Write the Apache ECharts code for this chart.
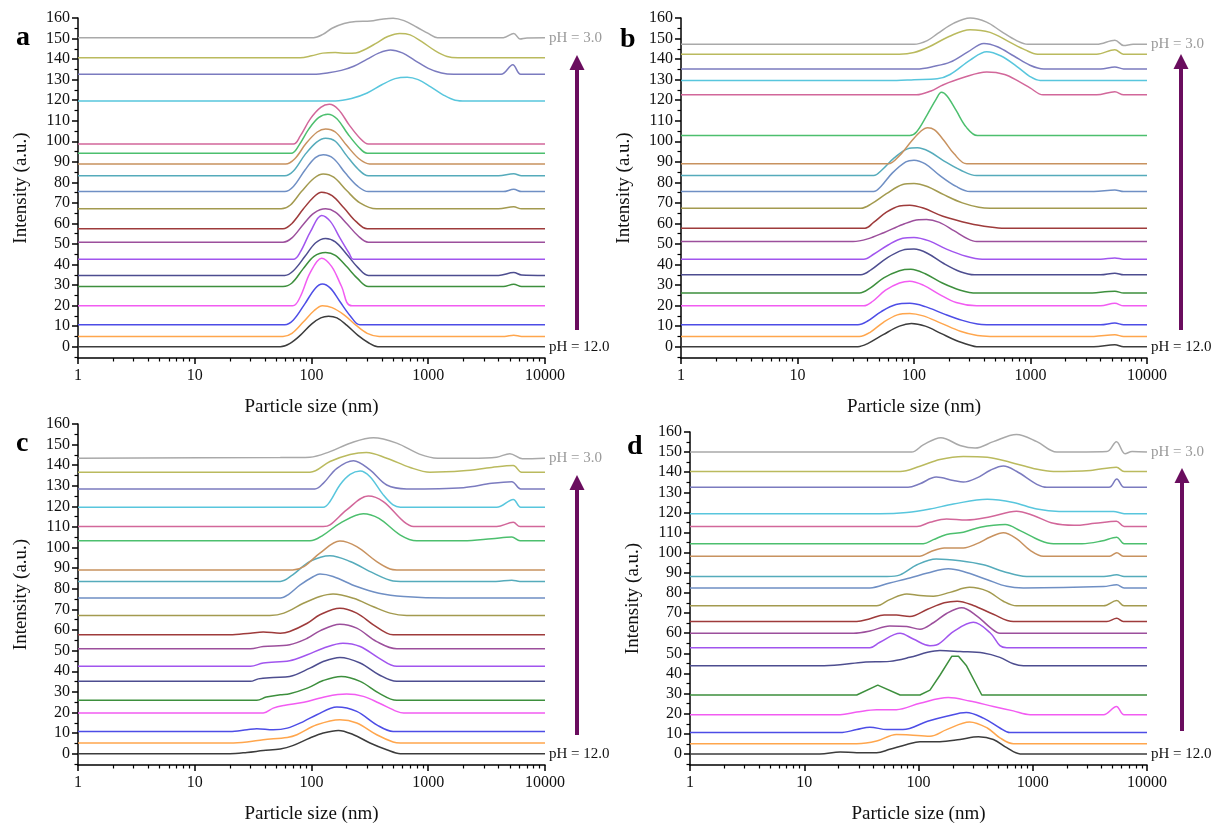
<!DOCTYPE html>
<html>
<head>
<meta charset="utf-8">
<script src="https://cdn.jsdelivr.net/npm/echarts@6.0.0/dist/echarts.min.js"></script>
<style>
html,body{margin:0;padding:0;background:#fff;}
#chart{width:1212px;height:825px;}
</style>
</head>
<body>
<div id="chart"></div>
<script>
// ---------- DATA ----------
const pH = [12.0, 11.5, 11.0, 10.5, 10.0, 9.5, 9.0, 8.5, 8.0, 7.5, 7.0, 6.5, 6.0, 5.5, 5.0, 4.5, 4.0, 3.5, 3.0];
const majorX = [1, 10, 100, 1000, 10000];
const minorX = [2,3,4,5,6,7,8,9,20,30,40,50,60,70,80,90,200,300,400,500,600,700,800,900,2000,3000,4000,5000,6000,7000,8000,9000];
const majorY = [0,10,20,30,40,50,60,70,80,90,100,110,120,130,140,150,160];
const minorY = [-5,5,15,25,35,45,55,65,75,85,95,105,115,125,135,145,155];
const panelLetters = ['a', 'b', 'c', 'd'];

// Panel a: [particle size (nm), intensity incl. offset]
const curvesA = [
  [[1,0],[54,0],[65,1.5],[80,5.5],[100,11],[120,14],[140,14.8],[165,14],[200,10.5],[250,5.5],[310,1.8],[370,0],[10000,0]],
  [[1,5],[57,5],[68,6.5],[85,12],[105,17.5],[124,19.9],[150,19],[190,15.5],[240,10.5],[300,6.5],[380,5],[4500,5],[5400,5.6],[6300,5],[10000,5]],
  [[1,10.7],[59,10.7],[70,13],[88,21],[108,28.5],[124,30.5],[145,28.5],[175,22],[215,15],[260,10.7],[10000,10.7]],
  [[1,19.9],[69,19.9],[80,24.2],[97,35.8],[122,43.1],[149,39],[181,29.3],[222,19.9],[10000,19.9]],
  [[1,29.3],[57,29.3],[68,31],[85,38],[105,44],[132,45.9],[160,44.5],[200,39],[250,33],[307,29.3],[4400,29.3],[5400,30.4],[6300,29.3],[10000,29.3]],
  [[1,34.7],[59,34.7],[70,37],[88,44],[108,50.5],[132,52.7],[160,51],[200,45],[250,38.5],[307,34.7],[4000,34.7],[5400,36.1],[6300,34.9],[10000,34.7]],
  [[1,42.6],[70,42.6],[80,46],[98,56],[122,63.9],[145,61],[175,53],[210,45.5],[228,42.6],[10000,42.6]],
  [[1,50.9],[57,50.9],[68,53],[85,59.5],[105,65],[132,67.1],[160,65.5],[200,60],[250,54],[307,50.9],[10000,50.9]],
  [[1,57.4],[57,57.4],[68,60],[85,67],[105,73],[122,75.2],[150,73.5],[190,67.5],[240,61],[300,57.4],[10000,57.4]],
  [[1,67.1],[55,67.1],[66,69],[82,75.5],[105,82],[126,84.1],[155,82.5],[200,76],[260,70],[360,67.1],[4000,67.1],[5400,68.1],[6300,67.1],[10000,67.1]],
  [[1,75.5],[59,75.5],[70,78],[88,86],[108,92],[126,93.4],[155,91.5],[195,84.5],[250,78],[307,75.5],[4400,75.5],[5400,76.6],[6300,75.5],[10000,75.5]],
  [[1,83.2],[59,83.2],[70,85.5],[88,93.5],[110,99.5],[132,101.5],[160,100],[200,93],[250,86.5],[307,83.2],[4000,83.2],[5400,84.2],[6300,83.2],[10000,83.2]],
  [[1,88.9],[60,88.9],[72,91.5],[90,99],[112,104.5],[132,106],[160,104.5],[200,98],[255,91.5],[315,88.9],[10000,88.9]],
  [[1,94.2],[67,94.2],[78,98],[95,106],[115,111.5],[138,113.2],[165,111],[205,103.5],[255,97],[300,94.2],[10000,94.2]],
  [[1,98.7],[70,98.7],[80,102.5],[98,111],[120,116.5],[142,118],[170,115.5],[210,108],[260,101.5],[307,98.7],[10000,98.7]],
  [[1,119.6],[160,119.6],[220,120.8],[300,123.5],[400,127.5],[520,130.5],[660,131.2],[820,130],[1050,126.5],[1350,122.5],[1700,120],[2100,119.6],[10000,119.6]],
  [[1,132.6],[104,132.6],[140,133.3],[180,134.5],[230,136.5],[300,140],[380,143],[475,144.4],[600,143],[760,139.5],[1000,135.5],[1300,133.2],[1650,132.6],[4200,132.6],[5300,137.3],[6200,132.6],[10000,132.6]],
  [[1,140.7],[80,140.7],[100,141.6],[125,142.9],[160,143.2],[200,142.8],[240,143],[290,144.8],[360,147.8],[450,151],[570,152.5],[700,151.8],[880,148.5],[1150,144],[1450,141.3],[1800,140.7],[10000,140.7]],
  [[1,150.4],[104,150.4],[125,152],[150,155],[190,157.3],[240,158.3],[320,158.5],[400,159.4],[500,159.9],[620,158.7],[800,155.5],[1000,152.5],[1200,150.4],[4400,150.4],[5400,152.5],[6100,149.8],[7000,150.3],[10000,150.4]]
];

const curvesB = [
  [[1,0],[33,0],[40,1.5],[55,6],[75,10],[95,11.3],[125,10],[170,6.5],[230,3],[300,0.8],[345,0],[3500,0],[5300,1],[6300,0],[10000,0]],
  [[1,5],[34,5],[42,7],[55,12],[72,15.5],[92,16.2],[120,15],[170,11.5],[250,7.5],[350,5.4],[450,5],[3500,5],[5300,5.8],[6300,5],[10000,5]],
  [[1,10.7],[33,10.7],[40,12.5],[52,17],[70,20.5],[92,21.1],[125,19.5],[180,16],[260,12.8],[350,11],[420,10.7],[4000,10.7],[5300,11.5],[6300,10.7],[10000,10.7]],
  [[1,19.9],[37,19.9],[44,22],[57,27.5],[75,31],[92,31.9],[120,30],[165,25.5],[230,21.5],[345,19.9],[4000,19.9],[5300,21.1],[6300,19.9],[10000,19.9]],
  [[1,26.1],[34,26.1],[42,28.5],[55,33.5],[75,37],[94,37.7],[125,35.5],[175,31],[250,27.5],[345,26.1],[3000,26.1],[5300,27],[6300,26.1],[10000,26.1]],
  [[1,35],[35,35],[43,37.5],[58,43],[80,47],[100,47.5],[130,45.5],[180,40.5],[250,36.5],[330,35],[4000,35],[5300,35.8],[6300,35],[10000,35]],
  [[1,42.6],[37,42.6],[45,45],[60,49.5],[80,52.8],[100,53.2],[135,51.5],[190,47.5],[280,44],[385,42.6],[4000,42.6],[5300,43.2],[6300,42.6],[10000,42.6]],
  [[1,51.2],[30,51.2],[40,52.5],[55,55.5],[80,59.5],[110,61.8],[128,61.9],[165,60.5],[220,56.5],[290,52.5],[345,51.2],[10000,51.2]],
  [[1,57.7],[38,57.7],[45,60.5],[58,65.5],[75,68.5],[92,68.9],[120,67.5],[177,63.5],[300,60],[450,58.3],[600,57.7],[10000,57.7]],
  [[1,67.4],[35,67.4],[43,69.5],[58,74.5],[80,79],[100,79.5],[130,78],[180,74],[260,70],[360,67.9],[450,67.4],[10000,67.4]],
  [[1,75.5],[45,75.5],[52,78],[65,84.5],[85,90],[100,90.8],[125,89],[165,83.5],[230,78],[303,75.5],[3500,75.5],[5300,76.3],[6300,75.5],[10000,75.5]],
  [[1,83.3],[45,83.3],[53,86],[68,92],[88,96.3],[107,96.8],[135,95],[180,90.5],[250,86],[345,83.3],[10000,83.3]],
  [[1,89],[60,89],[75,93],[95,100],[115,105],[131,106.6],[150,105.5],[180,100.5],[220,94],[284,89],[10000,89]],
  [[1,102.8],[92,102.8],[105,104.5],[130,113],[155,120.5],[172,123.8],[192,122],[230,115],[280,107],[350,102.8],[10000,102.8]],
  [[1,122.6],[105,122.6],[140,124.5],[177,127.4],[265,131],[421,133.7],[600,132.5],[800,129],[990,126],[1280,122.6],[3700,122.6],[5300,124.1],[6300,122.6],[10000,122.6]],
  [[1,129.6],[71,129.6],[100,130],[158,130.4],[204,132.5],[303,139.5],[421,143.6],[560,141.5],[760,136.5],[990,131.5],[1210,129.6],[10000,129.6]],
  [[1,135.2],[105,135.2],[150,136.5],[204,138.5],[290,143.5],[398,147.6],[520,146],[720,141.5],[990,137],[1300,135.2],[4000,135.2],[5300,136.2],[6300,135.2],[10000,135.2]],
  [[1,142.4],[75,142.4],[100,143.2],[135,146],[200,151],[303,154.3],[450,153],[650,148.5],[900,144.5],[1150,142.4],[3700,142.4],[5300,144.6],[6260,142.4],[10000,142.4]],
  [[1,147.2],[100,147.2],[130,149],[160,152.5],[220,157.5],[303,160],[420,158],[560,153.5],[760,149],[950,147.2],[3700,147.2],[5300,149.2],[6300,146.6],[7600,147.2],[10000,147.2]]
];

const curvesC = [
  [[1,0],[20,0],[28,0.6],[38.6,1.5],[54,2.3],[69,3.9],[97,7.6],[126,10],[170,11.3],[229,9.2],[317,5.2],[441,1.9],[577,0],[10000,0]],
  [[1,5.2],[20,5.2],[28,5.7],[38.6,6.8],[62,7.9],[75,9.2],[111,14],[175,16.5],[244,14.9],[362,9.2],[500,5.7],[577,5.2],[10000,5.2]],
  [[1,10.8],[20,10.8],[28,11.6],[34,12.1],[47,11.6],[62,12.4],[86,15.7],[111,18.9],[165,22.6],[244,20.5],[362,14],[500,10.8],[10000,10.8]],
  [[1,19.7],[38.6,19.7],[47,22.1],[58,23.4],[86,25],[135,27.8],[200,28.9],[278,27.8],[378,24.6],[537,20.5],[617,19.7],[10000,19.7]],
  [[1,25.9],[34,25.9],[41,27.5],[54,28.6],[65,29.1],[92,31.8],[126,35.5],[180,37.5],[261,35.1],[378,29.4],[537,25.9],[10000,25.9]],
  [[1,35.1],[30,35.1],[35,36.3],[47,37],[65,37.5],[97,41.5],[126,44.7],[175,46.7],[261,44],[378,38.3],[537,35.1],[10000,35.1]],
  [[1,42.4],[30,42.4],[38.6,44],[65,45.1],[92,48],[126,51.2],[186,53.6],[261,52],[378,46.4],[537,42.4],[10000,42.4]],
  [[1,50.9],[30,50.9],[38.6,52],[65,52.9],[92,56],[118,59.6],[175,62.8],[244,60.9],[362,54.4],[537,50.9],[10000,50.9]],
  [[1,57.7],[20,57.7],[30,58.5],[38.6,59],[54,58.5],[65,59.3],[92,63.3],[118,67.4],[175,70.6],[244,68.2],[339,62.5],[441,58.5],[500,57.7],[10000,57.7]],
  [[1,67.1],[44,67.1],[58,68.2],[86,73.1],[118,76.3],[153,77.5],[229,75.4],[339,71.3],[471,68.2],[654,67.1],[10000,67.1]],
  [[1,75.5],[54,75.5],[63,77.1],[80,81.9],[104,86],[118,87.2],[153,86],[244,81.1],[378,77.9],[617,76.3],[1438,75.5],[10000,75.5]],
  [[1,83.6],[54,83.6],[69,86.8],[97,93.3],[144,96.1],[214,93.3],[339,87.6],[500,83.8],[577,83.6],[3800,83.6],[5200,84.2],[6100,83.6],[10000,83.6]],
  [[1,89.2],[69,89.2],[86,90.8],[118,97.3],[175,103.2],[244,100.5],[362,93.2],[471,89.6],[537,89.2],[10000,89.2]],
  [[1,103.3],[97,103.3],[126,106.1],[175,111.8],[278,116.5],[378,114.2],[577,106.1],[797,103.3],[2000,103.3],[3500,104.3],[5200,105.2],[6110,103.3],[10000,103.3]],
  [[1,110.2],[126,110.2],[144,111],[200,118.3],[306,125],[412,122.3],[617,112.6],[750,110.2],[3855,110.2],[5350,112.3],[6110,110.2],[10000,110.2]],
  [[1,119.6],[126,119.6],[144,122.4],[175,130.4],[214,135.5],[261,137.2],[317,134.4],[412,125.6],[500,120.7],[577,119.6],[3855,119.6],[5350,123.4],[6200,119.6],[10000,119.6]],
  [[1,128.5],[107,128.5],[126,131.2],[165,138.5],[229,142.2],[317,137.7],[441,130.4],[654,128.5],[2000,129.1],[3500,131.2],[5190,132],[6200,128.5],[10000,128.5]],
  [[1,136.6],[97,136.6],[144,141.8],[214,145.2],[295,146.2],[441,143.4],[700,138.9],[1035,136.6],[2000,137.3],[3500,138.9],[5350,139.8],[6300,136.6],[10000,136.6]],
  [[1,143.4],[54,143.7],[97,143.9],[144,146.6],[214,150.7],[339,153.3],[537,150.7],[840,145.4],[1200,143.4],[2300,143.4],[3855,143.9],[5000,145.6],[6400,143.1],[10000,143.4]]
];

const curvesD = [
  [[1,0],[13.7,0],[20.6,1],[28.8,0.6],[43,0.6],[56,2.3],[79,4.7],[103,6.1],[154,6.1],[231,7.2],[335,8.5],[452,7.2],[592,3.1],[775,0],[10000,0]],
  [[1,5.1],[28.8,5.1],[43,6.4],[64,9.7],[84,9.4],[126,8.8],[176,12.1],[280,15.9],[400,12.9],[516,8],[676,5.1],[10000,5.1]],
  [[1,10.6],[20.6,10.6],[28.8,12.1],[37.6,13.3],[53,12.1],[73,12.1],[120,16.2],[176,18.7],[262,20.6],[370,17.8],[516,12.9],[630,10.6],[10000,10.6]],
  [[1,19.5],[20.6,19.5],[28.8,20.8],[43,22],[64,22],[103,25.2],[182,28],[280,26.3],[452,23.6],[676,21.4],[950,19.5],[4160,19.5],[5400,23.6],[6300,19.5],[10000,19.5]],
  [[1,29.3],[28.8,29.3],[44,34.2],[69,29.3],[103,29.3],[126,31.7],[154,39.1],[196,48.6],[224,48.6],[262,44],[358,29.3],[10000,29.3]],
  [[1,43.8],[13.7,43.8],[20.6,44.3],[33,45.6],[56,46],[84,48],[120,50.5],[154,51.4],[231,50.9],[370,50.2],[516,48],[676,44.8],[828,43.8],[10000,43.8]],
  [[1,52.8],[37.6,52.8],[45.5,55.4],[69,60],[90,57.1],[126,53.8],[143,54.1],[202,60.8],[302,65.4],[425,60.1],[516,53.8],[592,52.8],[10000,52.8]],
  [[1,60],[27,60],[37.6,61.1],[56,63.6],[79,63.3],[103,62],[135,65.2],[176,69.8],[239,72.6],[325,68.5],[425,62.8],[516,60],[10000,60]],
  [[1,65.8],[28.8,65.8],[37.6,67.2],[50,69.1],[64,69],[84,68.3],[120,71.9],[168,75.1],[218,75.9],[302,73.8],[452,69.4],[676,65.8],[4450,65.8],[5440,67.4],[6200,65.8],[10000,65.8]],
  [[1,73.6],[43,73.6],[56,76.7],[79,79.5],[103,78.7],[135,78.4],[189,80.3],[280,82.8],[400,80.9],[553,75.9],[720,73.6],[4160,73.6],[5440,76.2],[6300,73.6],[10000,73.6]],
  [[1,82.5],[37.6,82.5],[56,85],[84,87.4],[120,89.9],[182,92],[247,90.7],[400,86.6],[592,83.3],[828,82.5],[4160,83.2],[5440,84.1],[6300,82.5],[10000,82.5]],
  [[1,88.2],[53,88.2],[69,89],[97,94],[143,96.9],[231,96],[370,94],[553,90.7],[882,88.2],[4200,88.2],[5440,89],[6300,88.2],[10000,88.2]],
  [[1,98.3],[103,98.3],[126,100.4],[168,102.4],[247,102.4],[325,104.5],[425,107.8],[553,109.9],[720,107],[950,101.2],[1239,98.3],[4700,98.3],[5440,100],[6200,98.3],[10000,98.3]],
  [[1,104.5],[110,104.5],[135,106.5],[176,109.1],[247,110.2],[347,112.7],[575,114],[775,111],[1160,106.1],[1516,104.5],[2700,104.5],[4000,105.8],[5440,107.7],[6300,104.5],[10000,104.5]],
  [[1,113],[97,113],[126,115.1],[176,116.8],[262,116.3],[425,117.9],[720,120.6],[1012,118.5],[1516,114.6],[2300,113.6],[3500,114.6],[5400,115.7],[6300,113],[10000,113]],
  [[1,119.4],[46,119.4],[79,120],[126,121.7],[202,124.2],[400,126.6],[676,125],[1086,121.7],[1700,120.5],[5100,120.5],[6300,119.4],[10000,119.4]],
  [[1,132.5],[81,132.5],[103,134.3],[143,137.6],[202,135.9],[247,135.1],[325,137.2],[425,141],[553,143.1],[720,140.5],[1086,134],[1330,132.5],[4650,132.5],[5440,136.7],[6300,132.5],[10000,132.5]],
  [[1,140.4],[69,140.4],[103,143],[154,146.3],[247,147.8],[400,147.4],[633,145],[1012,141.9],[1516,140.4],[3200,140.9],[5400,142.5],[6300,140.4],[10000,140.4]],
  [[1,150],[87,150],[110,153.6],[157,157.2],[231,153.3],[313,152],[452,155.2],[720,158.8],[1086,155.2],[1620,150],[4450,150.3],[5400,155.2],[6430,149.2],[7400,150.3],[10000,150]]
];

// ---------- STYLE ----------
const palette = ['#3c3c3c','#ffa64d','#4d4de6','#f25cf2','#3d8f3d','#4d4d8f','#a155ee','#9c4f9c','#9e3b3b','#a39a4f','#6f8fc4','#55abbb','#c8925f','#4cbf6e','#d2679a','#58c6dd','#7b7bbf','#baba5e','#a9a9a9'];
const FONT = '"Liberation Serif", "Times New Roman", serif';
const TXT = '#111111';
const ARROW = '#6a0d5e';
const panels = [curvesA, curvesB, curvesC, curvesD];
const grids = [
  {left: 78, top: 18, width: 467, height: 340},
  {left: 681, top: 18, width: 466, height: 340},
  {left: 78, top: 424, width: 467, height: 341},
  {left: 690, top: 432, width: 457, height: 337}
];
const arrows = [
  {x: 577, top: 55, bottom: 330},
  {x: 1181, top: 54, bottom: 330},
  {x: 577, top: 475, bottom: 735},
  {x: 1182, top: 468, bottom: 731}
];
const letterPos = [[16, 38], [620, 39.5], [16, 443.5], [627, 446.5]];

const xAxes = [], yAxes = [], series = [], graphic = [];
for (let p = 0; p < 4; p++) {
  xAxes.push({
    type: 'log', logBase: 10, gridIndex: p, min: 1, max: 10000, position: 'bottom',
    axisLine: {onZero: false, lineStyle: {color: '#000', width: 1.5}},
    axisTick: {customValues: majorX, length: 6, lineStyle: {color: '#000', width: 1.5}},
    axisLabel: {customValues: majorX, formatter: v => String(v), fontFamily: FONT, fontSize: 16, color: TXT, margin: 10},
    splitLine: {show: false},
    name: 'Particle size (nm)', nameLocation: 'middle', nameGap: 40,
    nameTextStyle: {fontFamily: FONT, fontSize: 19, color: TXT}
  });
  yAxes.push({
    type: 'value', gridIndex: p, min: -5.5, max: 160, position: 'left',
    axisLine: {show: true, onZero: false, lineStyle: {color: '#000', width: 1.5}},
    axisTick: {customValues: majorY, length: 6, lineStyle: {color: '#000', width: 1.5}},
    axisLabel: {customValues: majorY, fontFamily: FONT, fontSize: 16, color: TXT, margin: 8},
    splitLine: {show: false},
    name: 'Intensity (a.u.)', nameLocation: 'middle', nameGap: 47, nameRotate: 90,
    nameTextStyle: {fontFamily: FONT, fontSize: 19, color: TXT}
  });
}
for (let p = 0; p < 4; p++) {
  xAxes.push({
    type: 'log', logBase: 10, gridIndex: p, min: 1, max: 10000, position: 'bottom',
    axisLine: {show: false, onZero: false},
    axisTick: {customValues: minorX, length: 3.5, lineStyle: {color: '#000', width: 1.2}},
    axisLabel: {show: false}, splitLine: {show: false}
  });
  yAxes.push({
    type: 'value', gridIndex: p, min: -5.5, max: 160, position: 'left',
    axisLine: {show: false, onZero: false},
    axisTick: {customValues: minorY, length: 3.5, lineStyle: {color: '#000', width: 1.2}},
    axisLabel: {show: false}, splitLine: {show: false}
  });
}

panels.forEach((curves, p) => {
  curves.forEach((data, i) => {
    const top = i === curves.length - 1, bottom = i === 0;
    series.push({
      type: 'line', name: 'pH ' + pH[i].toFixed(1), xAxisIndex: p, yAxisIndex: p,
      data: data, showSymbol: false, symbol: 'none', silent: true, clip: false,
      smooth: (p === 3 && i === 4) ? false : 0.35,
      lineStyle: {color: palette[i], width: 1.5},
      itemStyle: {color: palette[i]},
      endLabel: {
        show: top || bottom,
        formatter: 'pH = ' + pH[i].toFixed(1),
        color: top ? '#9a9a9a' : TXT, fontFamily: FONT, fontSize: 15, distance: 4
      }
    });
  });
  const a = arrows[p];
  graphic.push({type: 'line', silent: true, shape: {x1: a.x, y1: a.bottom, x2: a.x, y2: a.top + 12},
    style: {stroke: ARROW, lineWidth: 4}});
  graphic.push({type: 'polygon', silent: true, shape: {points: [[a.x, a.top], [a.x - 7.5, a.top + 15], [a.x + 7.5, a.top + 15]]},
    style: {fill: ARROW}});
  graphic.push({type: 'text', silent: true, style: {x: letterPos[p][0], y: letterPos[p][1], text: panelLetters[p],
    font: 'bold 28px "Liberation Serif"', fill: '#000', verticalAlign: 'middle'}});
});

const chart = echarts.init(document.getElementById('chart'), null, {renderer: 'canvas'});
chart.setOption({
  animation: false,
  backgroundColor: '#fff',
  grid: grids,
  xAxis: xAxes,
  yAxis: yAxes,
  series: series,
  graphic: graphic
});
</script>
</body>
</html>
